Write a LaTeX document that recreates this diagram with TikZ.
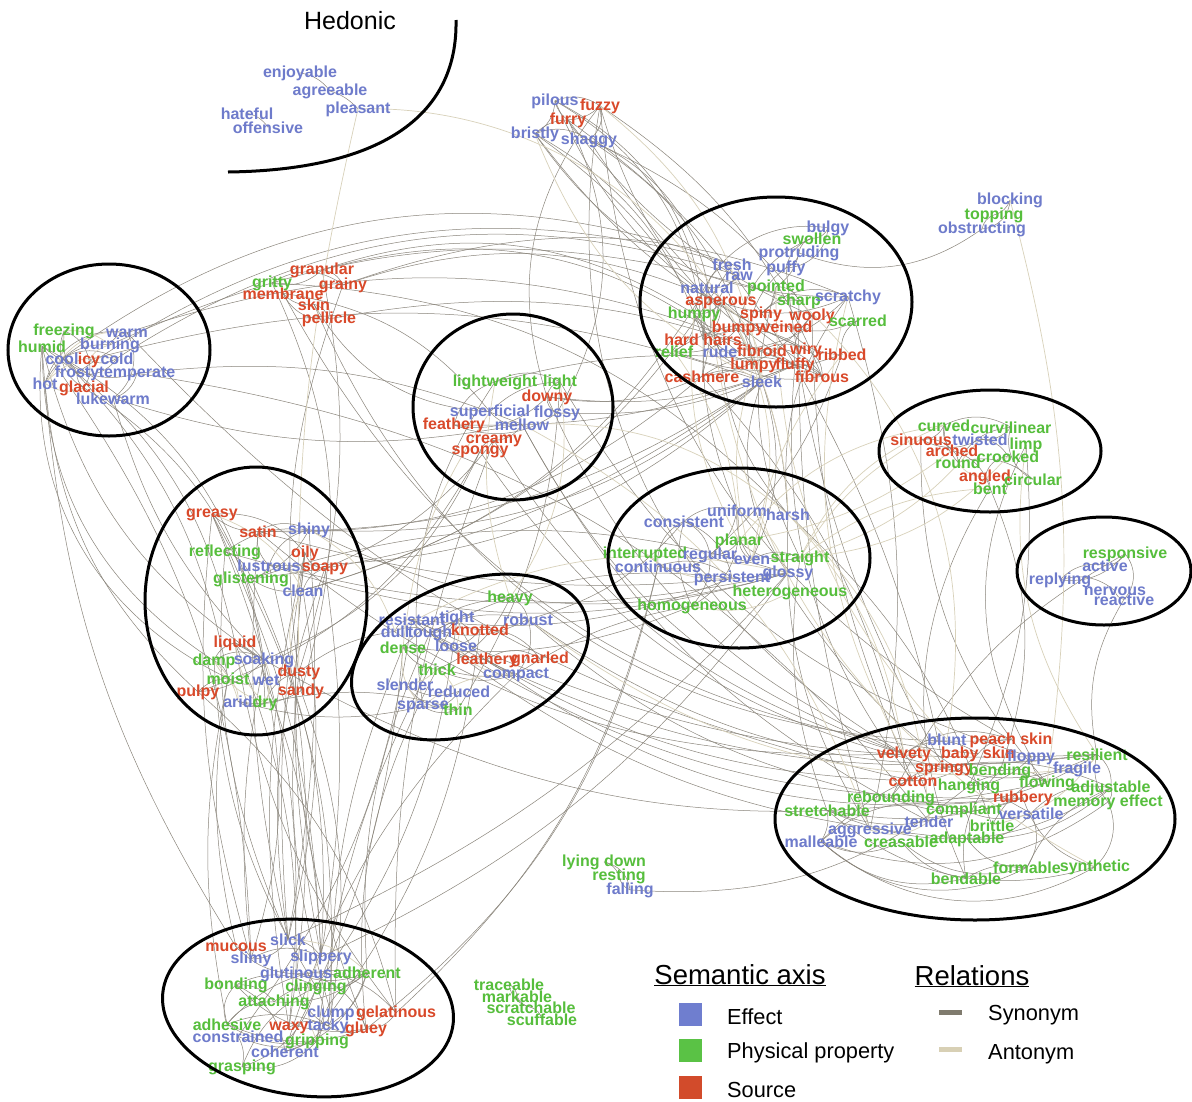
\documentclass[tikz,border=0pt]{standalone}
\usepackage{fontspec}
\setmainfont{Liberation Sans}
\usetikzlibrary{backgrounds}
\definecolor{effc}{HTML}{6E7BCB}
\definecolor{phyc}{HTML}{56BE3C}
\definecolor{srcc}{HTML}{D9492A}
\definecolor{sync}{HTML}{8A857B}
\definecolor{antc}{HTML}{D8D1BA}
\definecolor{effsq}{HTML}{6F7ECF}
\definecolor{physq}{HTML}{5AC245}
\definecolor{srcsq}{HTML}{D24B2B}
\definecolor{synbar}{HTML}{807B6E}
\definecolor{antbar}{HTML}{D8D0B5}

\tikzset{
  word/.style={inner sep=0pt, anchor=base, yshift=-5pt,
    font=\fontsize{16}{16}\selectfont\bfseries},
  eff/.style={word, text=effc},
  phy/.style={word, text=phyc},
  src/.style={word, text=srcc},
  syn/.style={draw=sync, line width=0.5pt},
  ant/.style={draw=antc, line width=0.7pt},
  group/.style={draw=black, line width=3pt},
  legtitle/.style={inner sep=0pt, anchor=base, font=\fontsize{27.5}{28}\selectfont},
  legtext/.style={inner sep=0pt, anchor=base west, font=\fontsize{21.8}{24}\selectfont},
}

\begin{document}
\begin{tikzpicture}[x=1pt,y=-1pt]
\useasboundingbox (0,0) rectangle (1192,1101);

% ---------- hedonic ----------
\node[inner sep=0pt, anchor=base, font=\fontsize{25}{28}\selectfont] (hedonic) at (350,29) {Hedonic};
\node[eff] (enjoyable) at (300,72) {enjoyable};
\node[eff] (agreeable) at (330,90) {agreeable};
\node[eff] (pleasant) at (358,108) {pleasant};
\node[eff] (hateful) at (247,114) {hateful};
\node[eff] (offensive) at (268,128) {offensive};

% ---------- fur ----------
\node[eff] (pilous) at (555,100) {pilous};
\node[src] (fuzzy) at (600,105) {fuzzy};
\node[src] (furry) at (568,119) {furry};
\node[eff] (bristly) at (535,133) {bristly};
\node[eff] (shaggy) at (589,139) {shaggy};

% ---------- blocking ----------
\node[eff] (blocking) at (1010,199) {blocking};
\node[phy] (topping) at (994,214) {topping};
\node[eff] (obstructing) at (982,228) {obstructing};

% ---------- texture cluster ----------
\node[eff] (bulgy) at (828,227) {bulgy};
\node[phy] (swollen) at (812,239) {swollen};
\node[eff] (protruding) at (799,252) {protruding};
\node[eff] (fresh) at (732,265) {fresh};
\node[eff] (puffy) at (786,267) {puffy};
\node[eff] (raw) at (739,275) {raw};
\node[eff] (natural) at (707,288) {natural};
\node[phy] (pointed) at (776,286) {pointed};
\node[src] (asperous) at (721,300) {asperous};
\node[phy] (sharp) at (799,300) {sharp};
\node[eff] (scratchy) at (848,296) {scratchy};
\node[phy] (humpy) at (694,313) {humpy};
\node[src] (spiny) at (761,313) {spiny};
\node[src] (wooly) at (812,315) {wooly};
\node[phy] (scarred) at (858,321) {scarred};
\node[src] (bumpy) at (738,327) {bumpy};
\node[src] (veined) at (787,327) {veined};
\node[src] (hardhairs) at (703,340) {hard hairs};
\node[phy] (relief) at (674,352) {relief};
\node[eff] (rude) at (720,352) {rude};
\node[src] (fibroid) at (762,351) {fibroid};
\node[src] (wiry) at (806,349) {wiry};
\node[src] (ribbed) at (842,355) {ribbed};
\node[src] (lumpy) at (754,364) {lumpy};
\node[src] (fluffy) at (795,364) {fluffy};
\node[src] (cashmere) at (702,377) {cashmere};
\node[eff] (sleek) at (762,382) {sleek};
\node[src] (fibrous) at (822,377) {fibrous};

% ---------- granular ----------
\node[src] (granular) at (322,269) {granular};
\node[phy] (gritty) at (272,282) {gritty};
\node[src] (grainy) at (343,284) {grainy};
\node[src] (membrane) at (283,294) {membrane};
\node[src] (skin) at (314,305) {skin};
\node[src] (pellicle) at (329,318) {pellicle};

% ---------- temperature ----------
\node[phy] (freezing) at (64,330) {freezing};
\node[eff] (warm) at (127,332) {warm};
\node[phy] (humid) at (42,347) {humid};
\node[eff] (burning) at (110,344) {burning};
\node[eff] (cool) at (62,359) {cool};
\node[src] (icy) at (89,359) {icy};
\node[eff] (cold) at (117,359) {cold};
\node[eff] (frosty) at (77,372) {frosty};
\node[eff] (temperate) at (137,372) {temperate};
\node[eff] (hot) at (45,384) {hot};
\node[src] (glacial) at (84,387) {glacial};
\node[eff] (lukewarm) at (113,399) {lukewarm};

% ---------- lightness ----------
\node[phy] (lightweight) at (495,381) {lightweight};
\node[phy] (light) at (560,381) {light};
\node[src] (downy) at (547,396) {downy};
\node[eff] (superficial) at (490,411) {superficial};
\node[eff] (flossy) at (557,412) {flossy};
\node[src] (feathery) at (454,424) {feathery};
\node[eff] (mellow) at (522,425) {mellow};
\node[src] (creamy) at (494,438) {creamy};
\node[src] (spongy) at (480,449) {spongy};

% ---------- curvature ----------
\node[phy] (curved) at (944,426) {curved};
\node[phy] (curvilinear) at (1011,428) {curvilinear};
\node[src] (sinuous) at (921,440) {sinuous};
\node[eff] (twisted) at (980,440) {twisted};
\node[phy] (limp) at (1026,444) {limp};
\node[src] (arched) at (952,451) {arched};
\node[phy] (crooked) at (1008,457) {crooked};
\node[phy] (round) at (958,463) {round};
\node[src] (angled) at (985,476) {angled};
\node[phy] (circular) at (1033,480) {circular};
\node[phy] (bent) at (990,489) {bent};

% ---------- response ----------
\node[phy] (responsive) at (1125,553) {responsive};
\node[eff] (active) at (1105,566) {active};
\node[eff] (replying) at (1060,579) {replying};
\node[eff] (nervous) at (1115,590) {nervous};
\node[eff] (reactive) at (1124,600) {reactive};

% ---------- surface / moisture ----------
\node[src] (greasy) at (212,512) {greasy};
\node[src] (satin) at (258,532) {satin};
\node[eff] (shiny) at (309,529) {shiny};
\node[phy] (reflecting) at (225,551) {reflecting};
\node[src] (oily) at (305,552) {oily};
\node[eff] (lustrous) at (269,566) {lustrous};
\node[src] (soapy) at (325,566) {soapy};
\node[phy] (glistening) at (251,578) {glistening};
\node[eff] (clean) at (303,591) {clean};
\node[src] (liquid) at (235,642) {liquid};
\node[phy] (damp) at (214,660) {damp};
\node[eff] (soaking) at (264,659) {soaking};
\node[src] (dusty) at (299,671) {dusty};
\node[phy] (moist) at (228,679) {moist};
\node[eff] (wet) at (266,680) {wet};
\node[src] (sandy) at (301,690) {sandy};
\node[src] (pulpy) at (198,691) {pulpy};
\node[eff] (arid) at (238,702) {arid};
\node[phy] (dry) at (265,702) {dry};

% ---------- density ----------
\node[phy] (heavy) at (510,597) {heavy};
\node[eff] (resistant) at (412,620) {resistant};
\node[eff] (tight) at (457,617) {tight};
\node[eff] (robust) at (528,620) {robust};
\node[eff] (dull) at (395,632) {dull};
\node[eff] (tough) at (430,632) {tough};
\node[src] (knotted) at (480,630) {knotted};
\node[phy] (dense) at (403,648) {dense};
\node[eff] (loose) at (456,646) {loose};
\node[src] (leathery) at (487,659) {leathery};
\node[src] (gnarled) at (540,658) {gnarled};
\node[phy] (thick) at (437,670) {thick};
\node[eff] (compact) at (516,673) {compact};
\node[eff] (slender) at (405,685) {slender};
\node[eff] (reduced) at (459,692) {reduced};
\node[eff] (sparse) at (423,704) {sparse};
\node[phy] (thin) at (458,710) {thin};

% ---------- regularity ----------
\node[eff] (uniform) at (737,511) {uniform};
\node[eff] (harsh) at (788,515) {harsh};
\node[eff] (consistent) at (684,522) {consistent};
\node[phy] (planar) at (739,540) {planar};
\node[phy] (interrupted) at (645,553) {interrupted};
\node[eff] (regular) at (710,554) {regular};
\node[eff] (even) at (752,559) {even};
\node[phy] (straight) at (800,557) {straight};
\node[eff] (continuous) at (658,567) {continuous};
\node[eff] (glossy) at (788,572) {glossy};
\node[eff] (persistent) at (732,577) {persistent};
\node[phy] (heterogeneous) at (790,591) {heterogeneous};
\node[phy] (homogeneous) at (692,605) {homogeneous};

% ---------- elasticity ----------
\node[eff] (blunt) at (947,740) {blunt};
\node[src] (peachskin) at (1011,739) {peach skin};
\node[src] (velvety) at (904,753) {velvety};
\node[src] (babyskin) at (978,753) {baby skin};
\node[eff] (floppy) at (1031,756) {floppy};
\node[phy] (resilient) at (1097,755) {resilient};
\node[src] (springy) at (944,767) {springy};
\node[phy] (bending) at (1000,770) {bending};
\node[eff] (fragile) at (1077,768) {fragile};
\node[src] (cotton) at (913,781) {cotton};
\node[phy] (hanging) at (969,785) {hanging};
\node[phy] (flowing) at (1047,782) {flowing};
\node[phy] (adjustable) at (1111,787) {adjustable};
\node[phy] (rebounding) at (891,797) {rebounding};
\node[src] (rubbery) at (1023,797) {rubbery};
\node[phy] (memoryeffect) at (1108,801) {memory effect};
\node[phy] (stretchable) at (827,811) {stretchable};
\node[phy] (compliant) at (964,809) {compliant};
\node[eff] (versatile) at (1031,814) {versatile};
\node[eff] (tender) at (929,822) {tender};
\node[phy] (brittle) at (992,826) {brittle};
\node[eff] (aggressive) at (870,829) {aggressive};
\node[eff] (malleable) at (821,842) {malleable};
\node[phy] (creasable) at (901,842) {creasable};
\node[phy] (adaptable) at (967,838) {adaptable};
\node[phy] (formable) at (1027,868) {formable};
\node[phy] (synthetic) at (1095,866) {synthetic};
\node[phy] (bendable) at (966,879) {bendable};

% ---------- posture ----------
\node[phy] (lyingdown) at (604,861) {lying down};
\node[phy] (resting) at (619,875) {resting};
\node[eff] (falling) at (630,889) {falling};

% ---------- adhesion ----------
\node[eff] (slick) at (288,940) {slick};
\node[src] (mucous) at (236,946) {mucous};
\node[eff] (slimy) at (251,958) {slimy};
\node[eff] (slippery) at (321,956) {slippery};
\node[eff] (glutinous) at (296,973) {glutinous};
\node[phy] (adherent) at (367,973) {adherent};
\node[phy] (bonding) at (236,984) {bonding};
\node[phy] (clinging) at (316,986) {clinging};
\node[phy] (attaching) at (274,1001) {attaching};
\node[eff] (clump) at (331,1012) {clump};
\node[src] (gelatinous) at (396,1012) {gelatinous};
\node[phy] (adhesive) at (227,1025) {adhesive};
\node[src] (waxy) at (289,1025) {waxy};
\node[eff] (tacky) at (328,1025) {tacky};
\node[src] (gluey) at (366,1028) {gluey};
\node[eff] (constrained) at (238,1037) {constrained};
\node[phy] (gripping) at (317,1040) {gripping};
\node[eff] (coherent) at (285,1052) {coherent};
\node[phy] (grasping) at (242,1066) {grasping};

% ---------- marking ----------
\node[phy] (traceable) at (509,985) {traceable};
\node[phy] (markable) at (517,997) {markable};
\node[phy] (scratchable) at (531,1008) {scratchable};
\node[phy] (scuffable) at (542,1020) {scuffable};

% ---------- relations (drawn under the words) ----------
\begin{pgfonlayer}{background}
\fill[white] (0,0) rectangle (1192,1101);

% synonyms
\foreach \a/\b/\c [evaluate=\c as \bb using 1.4*\c] in {
 enjoyable/agreeable/15, agreeable/pleasant/10, hateful/offensive/15,
 pilous/fuzzy/20, pilous/furry/-15, fuzzy/furry/15, furry/shaggy/-15, bristly/shaggy/20,
 bristly/pilous/-20, fuzzy/shaggy/25, bristly/furry/15,
 fuzzy/fluffy/-15, furry/wooly/-10, shaggy/wooly/10, bristly/hardhairs/15, bristly/wiry/-10,
 pilous/hardhairs/20, shaggy/fibrous/-8, fuzzy/fibrous/12, furry/fluffy/8, pilous/cashmere/25,
 shaggy/lumpy/15, bristly/scratchy/-20, fuzzy/downy/-20, furry/flossy/20, fuzzy/velvety/-25,
 pilous/wiry/-15, bristly/rude/10, shaggy/cashmere/30, fuzzy/peachskin/-20,
 blocking/topping/20, topping/obstructing/-20, blocking/obstructing/30, obstructing/protruding/20,
 fresh/raw/30, raw/natural/20, natural/asperous/-25, asperous/humpy/20, humpy/bumpy/-25,
 bumpy/lumpy/20, bulgy/swollen/25, swollen/protruding/-25, protruding/puffy/20, puffy/bulgy/-30,
 puffy/swollen/20, pointed/sharp/25, sharp/spiny/-20, spiny/scratchy/25, pointed/spiny/20,
 wooly/fluffy/-20, fluffy/fibrous/20, fibrous/fibroid/-25, fibroid/wiry/20, wiry/hardhairs/-20,
 ribbed/veined/20, veined/relief/-15, relief/humpy/-25, rude/asperous/20, rude/scratchy/-15,
 cashmere/wooly/-15, scarred/ribbed/-25, lumpy/humpy/15, bumpy/relief/20, asperous/scratchy/-15,
 hardhairs/fibrous/-20, natural/fresh/25, raw/rude/-30, swollen/bumpy/-20, protruding/pointed/15,
 humpy/hardhairs/20, bulgy/humpy/-30, lumpy/puffy/25, scarred/veined/15, wiry/fibrous/25,
 cashmere/fluffy/20, sleek/cashmere/-20, asperous/hardhairs/20, relief/ribbed/-15,
 wooly/cotton/-8, cashmere/velvety/10, scratchy/aggressive/10, sharp/aggressive/-6,
 puffy/springy/-8, fluffy/springy/6,
 granular/grainy/20, gritty/granular/-20, gritty/grainy/25, membrane/skin/-20, skin/pellicle/20,
 membrane/pellicle/-25, grainy/asperous/15, granular/lumpy/20, gritty/sandy/15, grainy/sandy/-10,
 granular/dusty/10, skin/peachskin/-25, membrane/babyskin/-20, gritty/harsh/15, granular/humpy/18,
 grainy/scratchy/15, membrane/superficial/15, skin/superficial/-20, pellicle/fibrous/12,
 freezing/icy/20, icy/cold/-20, cold/frosty/25, frosty/glacial/-20, glacial/freezing/30,
 warm/hot/-30, hot/burning/25, warm/lukewarm/30, lukewarm/temperate/-20, cool/cold/20,
 cool/temperate/-20, burning/warm/20, icy/glacial/15, freezing/frosty/-20, cool/frosty/15,
 cool/fresh/20, frosty/fresh/18, warm/fluffy/15, temperate/mellow/10, lukewarm/mellow/-10,
 burning/sharp/15, cold/raw/18, icy/sleek/12, humid/damp/-20, humid/moist/-25, humid/wet/20,
 humid/soaking/-15, humid/liquid/15, humid/mucous/-10, humid/slimy/12, hot/pulpy/-15,
 glacial/dry/20, lukewarm/soaking/-10, warm/cotton/-12, temperate/tender/15, cool/moist/12,
 lightweight/light/20, light/downy/-25, downy/feathery/20, feathery/flossy/-20, flossy/fluffy/-10,
 mellow/creamy/20, creamy/spongy/-25, superficial/light/15, spongy/soaking/15, lightweight/sparse/-15,
 light/thin/10, downy/fluffy/-10, feathery/fluffy/-8, spongy/springy/-15, creamy/velvety/-15,
 mellow/tender/-12, light/floppy/-15, superficial/mellow/-20, feathery/lightweight/20, flossy/downy/25,
 spongy/pulpy/15, creamy/soapy/10, downy/cashmere/-12, lightweight/fluffy/8, mellow/velvety/-15,
 creamy/gelatinous/-8,
 curved/curvilinear/20, curvilinear/round/-20, round/circular/20, curved/arched/-20, arched/bent/20,
 bent/angled/-20, angled/crooked/25, crooked/twisted/-20, twisted/sinuous/20, sinuous/curved/-25,
 limp/floppy/-20, bent/bending/15, arched/round/20, curved/round/-15, circular/curvilinear/30,
 sinuous/arched/20, twisted/curvilinear/-20, bent/bendable/-20, limp/hanging/10, sinuous/flowing/-15,
 responsive/active/20, active/replying/-20, replying/nervous/20, nervous/reactive/-25,
 responsive/reactive/30, replying/responsive/-20, reactive/resilient/-15, responsive/rebounding/-12,
 greasy/oily/20, oily/soapy/-25, satin/shiny/20, shiny/lustrous/-20, lustrous/glistening/20,
 glistening/reflecting/-20, reflecting/shiny/15, clean/soapy/20, liquid/soaking/-20, damp/moist/20,
 moist/wet/-20, wet/soaking/20, soaking/damp/-25, dusty/sandy/20, arid/dry/-25, pulpy/moist/15,
 liquid/wet/20, greasy/satin/-15, lustrous/satin/20, glistening/shiny/-15, clean/glistening/15,
 liquid/damp/-20, pulpy/soaking/-15, moist/soaking/15, dusty/dry/-20, sandy/arid/15,
 greasy/slimy/-8, greasy/slippery/8, oily/slick/-5, soapy/slippery/6, oily/slippery/-6,
 shiny/slick/5, satin/slick/-6, clean/slick/8, liquid/gelatinous/-10, wet/slimy/10, moist/mucous/-8,
 soaking/slimy/-6, greasy/waxy/10, oily/waxy/-8, pulpy/gelatinous/12, damp/clinging/-10,
 wet/slippery/6, soapy/slick/-10, glistening/slippery/10, liquid/glutinous/8, dusty/clump/-8,
 sandy/clump/10, moist/adhesive/-8, lustrous/waxy/8, reflecting/slick/-10, greasy/tacky/12,
 oily/gluey/-10,
 shiny/sleek/-15, satin/sleek/-12, lustrous/sleek/-15, glistening/sleek/-10, satin/cashmere/-15,
 clean/fresh/-15, clean/natural/-15,
 reflecting/glossy/-10, shiny/glossy/-15, lustrous/glossy/-12, glistening/glossy/12, satin/glossy/-8,
 liquid/flowing/-15, satin/velvety/-15, dusty/dull/10, arid/sparse/-10, dry/thin/10,
 heavy/robust/20, robust/tough/-15, tough/resistant/20, resistant/robust/-20, dense/compact/-15,
 compact/tight/20, tight/knotted/-20, knotted/gnarled/20, gnarled/leathery/-25, leathery/tough/15,
 thick/dense/20, slender/thin/-20, thin/sparse/20, sparse/reduced/-25, reduced/slender/20,
 heavy/dense/-15, tight/tough/20, loose/knotted/-15, compact/robust/-20, dull/tough/20,
 resistant/dull/-25, thick/compact/-15, heavy/thick/15,
 leathery/rubbery/-15, tough/resilient/-12, robust/resilient/-15, resistant/resilient/-10,
 resistant/adaptable/-12, robust/rebounding/-10, tough/rubbery/-12, leathery/cotton/-10,
 compact/coherent/-10, dense/coherent/8, thick/gluey/-12, tight/clinging/10, tight/gripping/-8,
 knotted/clump/10, tough/adherent/-10, dense/clump/-8, resistant/constrained/10,
 dense/homogeneous/-10, compact/homogeneous/8, robust/consistent/-12, resistant/persistent/-10,
 tough/persistent/12,
 uniform/consistent/-20, consistent/regular/20, regular/even/-20, even/planar/20, planar/straight/-20,
 uniform/homogeneous/25, homogeneous/regular/-15, continuous/persistent/20, persistent/consistent/-20,
 even/straight/20, uniform/regular/15, consistent/continuous/-25, planar/regular/20, uniform/even/-15,
 homogeneous/consistent/15, continuous/regular/-20,
 harsh/aggressive/-12, heterogeneous/versatile/-10, harsh/brittle/10, straight/stretchable/-10,
 harsh/scratchy/15, harsh/rude/12, harsh/asperous/-10, glossy/sleek/20, even/sleek/-15,
 uniform/natural/10, regular/ribbed/-10, straight/pointed/15,
 velvety/peachskin/20, peachskin/babyskin/-20, velvety/babyskin/25, springy/rebounding/-20,
 rebounding/resilient/-15, resilient/springy/15, bending/bendable/-20, bending/flowing/20,
 flowing/hanging/-20, floppy/hanging/15, fragile/brittle/-20, adjustable/adaptable/15,
 adaptable/versatile/-20, versatile/adjustable/20, malleable/formable/-25, formable/creasable/20,
 malleable/creasable/-20, malleable/bendable/-20, stretchable/compliant/-15, compliant/adaptable/20,
 rubbery/synthetic/-20, memoryeffect/adjustable/-20, memoryeffect/resilient/20, cotton/velvety/20,
 cotton/babyskin/-15, stretchable/rubbery/-10, bendable/formable/15, adaptable/formable/-20,
 compliant/malleable/-20, tender/velvety/-15, springy/bending/15, memoryeffect/synthetic/25,
 adjustable/formable/-15, adjustable/malleable/-25, stretchable/malleable/15, stretchable/synthetic/-20,
 rebounding/rubbery/-15, resilient/adjustable/20, versatile/formable/20, compliant/versatile/-15,
 flowing/floppy/20, creasable/bendable/-15, malleable/synthetic/-25, stretchable/adjustable/-20,
 malleable/memoryeffect/-20,
 cotton/fluffy/15, velvety/downy/15,
 falling/hanging/-15, lyingdown/resting/20, resting/falling/-20, lyingdown/falling/25,
 slick/slippery/20, slimy/mucous/-20, slimy/slippery/20, glutinous/adherent/-15, adherent/clinging/20,
 clinging/bonding/-20, bonding/attaching/20, attaching/adhesive/-20, adhesive/gluey/-15,
 gluey/tacky/20, tacky/waxy/-20, clump/coherent/20, gelatinous/glutinous/-20, gelatinous/gluey/20,
 constrained/gripping/-15, gripping/grasping/20, grasping/clinging/-20, coherent/adherent/-20,
 adhesive/tacky/15, bonding/adhesive/-25, glutinous/gluey/25, slick/slimy/20, mucous/glutinous/-15,
 adherent/attaching/15, adherent/adhesive/-20, adherent/tacky/15, adherent/gripping/-20,
 clinging/gripping/20, clinging/grasping/-15, tacky/clump/-20, bonding/coherent/20,
 glutinous/tacky/-20, constrained/grasping/15, attaching/clinging/15, adhesive/gripping/-15,
 bonding/gluey/-20,
 gelatinous/continuous/-12, gluey/continuous/-14, slippery/glossy/-10, slick/glossy/-8,
 traceable/markable/20, markable/scratchable/-20, scratchable/scuffable/20, traceable/scratchable/-25
}
  \draw[syn] (\a.center) to[bend left=\bb] (\b.center);

% antonyms
\foreach \a/\b/\c [evaluate=\c as \bb using 1.4*\c] in {
 pleasant/harsh/32, pleasant/dusty/-5,
 hot/cold/20, warm/cool/-20, freezing/burning/15, hot/freezing/-15, icy/burning/15, glacial/hot/20,
 wet/dry/20, damp/dry/-15, moist/arid/20, clean/dusty/-20, dry/soaking/-20, dry/liquid/15,
 arid/damp/-12, greasy/clean/15, shiny/dull/15, glossy/dull/-15,
 thick/thin/20, dense/sparse/-20, tight/loose/15, heavy/light/-15, heavy/lightweight/10,
 sparse/compact/15, slender/thick/-15, loose/compact/-20, superficial/dense/-10,
 curved/straight/-15, crooked/straight/15, sinuous/straight/-10, twisted/straight/12,
 round/angled/-20, planar/curved/15, bent/straight/-12, arched/planar/10,
 interrupted/continuous/20, homogeneous/heterogeneous/-15, uniform/heterogeneous/20,
 persistent/interrupted/15,
 blunt/sharp/-20, blunt/pointed/15, tender/aggressive/20, fragile/robust/15, brittle/resilient/-15,
 limp/resilient/-15, resilient/fragile/20,
 fuzzy/sleek/15, bristly/sleek/-15, asperous/sleek/20, lumpy/even/-12, bumpy/even/15,
 humpy/planar/-12, relief/planar/12, ribbed/even/-10,
 harsh/mellow/-15, harsh/velvety/12, scratchy/velvety/-15, harsh/tender/15, aggressive/mellow/-15,
 synthetic/natural/20, blocking/flowing/8, slippery/gripping/-20, slick/adherent/15
}
  \draw[ant] (\a.center) to[bend left=\bb] (\b.center);
\end{pgfonlayer}

% ---------- groups ----------
\draw[group] (456,20) .. controls (458,118) and (378,170) .. (228,172);
\draw[group] (776,302) ellipse [x radius=136, y radius=105];
\draw[group] (109,350) ellipse [x radius=101, y radius=86];
\draw[group] (513,407) ellipse [x radius=100, y radius=93];
\draw[group] (990,451) ellipse [x radius=111, y radius=61];
\draw[group] (1104,571) ellipse [x radius=87, y radius=54];
\draw[group] (256,601) ellipse [x radius=111, y radius=134];
\draw[group, rotate around={20:(470,657)}] (470,657) ellipse [x radius=123, y radius=76];
\draw[group] (739,558) ellipse [x radius=131, y radius=90];
\draw[group] (975,819) ellipse [x radius=200, y radius=101];
\draw[group, rotate around={-6:(308,1008)}] (308,1008) ellipse [x radius=146, y radius=88];

% ---------- legend ----------
\node[legtitle] (axistitle) at (740,984) {\underline{Semantic axis}};
\node[legtitle] (reltitle) at (972,985) {\underline{Relations}};
\node[fill=effsq, minimum size=23pt, inner sep=0pt] (effkey) at (690,1014) {};
\node[fill=physq, minimum size=23pt, inner sep=0pt] (phykey) at (690,1050) {};
\node[fill=srcsq, minimum size=23pt, inner sep=0pt] (srckey) at (690,1087) {};
\node[legtext] (efflab) at (727,1024) {Effect};
\node[legtext] (phylab) at (727,1058) {Physical property};
\node[legtext] (srclab) at (727,1097) {Source};
\node[fill=synbar, minimum width=23pt, minimum height=5pt, inner sep=0pt] (synkey) at (950,1012) {};
\node[fill=antbar, minimum width=23pt, minimum height=5pt, inner sep=0pt] (antkey) at (950,1049) {};
\node[legtext] (synlab) at (988,1020) {Synonym};
\node[legtext] (antlab) at (988,1059) {Antonym};
\end{tikzpicture}
\end{document}
